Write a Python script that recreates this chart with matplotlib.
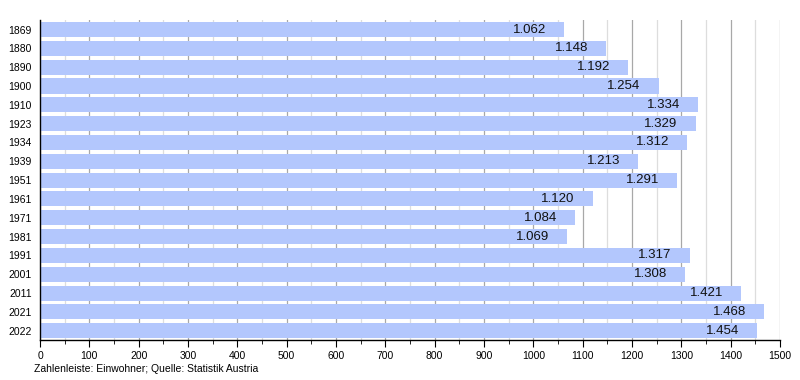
import matplotlib.pyplot as plt
from matplotlib.ticker import MultipleLocator

plt.rcParams['font.family'] = ['Liberation Sans', 'DejaVu Sans']

years = ['1869', '1880', '1890', '1900', '1910', '1923', '1934', '1939', '1951',
         '1961', '1971', '1981', '1991', '2001', '2011', '2021', '2022']
population = [1062, 1148, 1192, 1254, 1334, 1329, 1312, 1213, 1291,
              1120, 1084, 1069, 1317, 1308, 1421, 1468, 1454]

fig = plt.figure(figsize=(8, 3.8), dpi=100)
ax = fig.add_axes([0.05, 0.105, 0.925, 0.842])

pos = list(range(len(years)))
ax.barh(pos, population, height=0.8, color='#b3c7fd', zorder=2)
for p, v in zip(pos, population):
    label = f'{v:,}'.replace(',', '.')
    ax.annotate(label, (v, p), xytext=(-13, 0), textcoords='offset points',
                ha='right', va='center', fontsize=9.5, color='#111111', zorder=3)

ax.set_xlim(0, 1500)
ax.set_ylim(len(years) - 0.5, -0.5)
ax.set_yticks(pos)
ax.set_yticklabels(years, fontsize=7.5)
ax.tick_params(axis='y', length=0, pad=6)
ax.xaxis.set_major_locator(MultipleLocator(100))
ax.xaxis.set_minor_locator(MultipleLocator(50))
ax.tick_params(axis='x', which='major', length=5, labelsize=7.5, pad=3)
ax.tick_params(axis='x', which='minor', length=3)
ax.grid(axis='x', which='major', color='#a8a8a8', linewidth=0.9, zorder=0)
ax.grid(axis='x', which='minor', color='#dddddd', linewidth=0.9, zorder=0)
ax.set_axisbelow(True)
for s in ['top', 'right']:
    ax.spines[s].set_visible(False)
ax.spines['left'].set_linewidth(1)
ax.spines['bottom'].set_linewidth(1)

fig.text(0.043, 0.02, 'Zahlenleiste: Einwohner; Quelle: Statistik Austria', fontsize=7.5)

fig.savefig('out.png', dpi=100)
